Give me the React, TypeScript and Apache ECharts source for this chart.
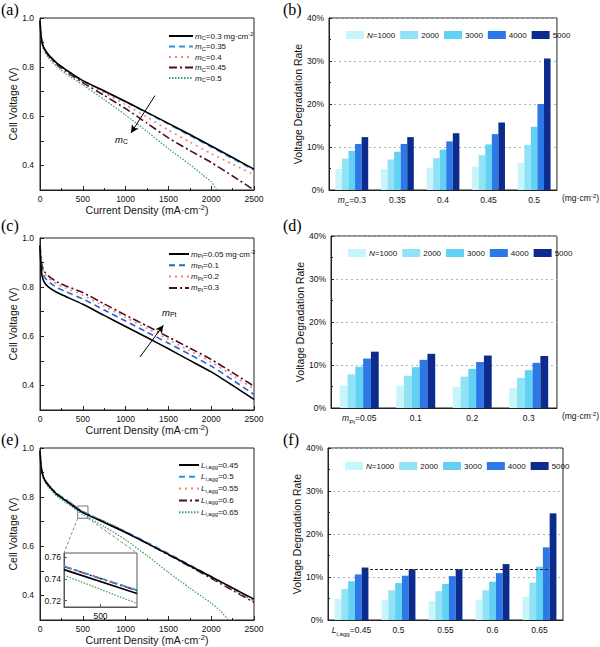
import React, { useEffect, useRef } from 'react';
import * as echarts from 'echarts';

// ---------- shared ----------
const currentDensity = [0, 10, 25, 50, 100, 200, 300, 500, 750, 1000, 1250, 1500, 1750, 2000, 2250, 2500];

// ---------- panel (a): carbon loading m_C ----------
const aMc03 = [0.99, 0.935, 0.9, 0.875, 0.85, 0.815, 0.79, 0.745, 0.703, 0.66, 0.616, 0.571, 0.526, 0.479, 0.432, 0.385];
const aMc035 = [0.99, 0.935, 0.9, 0.875, 0.85, 0.815, 0.79, 0.745, 0.702, 0.659, 0.614, 0.568, 0.522, 0.475, 0.428, 0.381];
const aMc04 = [0.99, 0.935, 0.899, 0.874, 0.848, 0.812, 0.787, 0.742, 0.696, 0.648, 0.597, 0.544, 0.495, 0.448, 0.405, 0.362];
const aMc045 = [0.99, 0.935, 0.898, 0.872, 0.846, 0.809, 0.783, 0.737, 0.685, 0.631, 0.572, 0.512, 0.461, 0.412, 0.357, 0.3];
const aMc05X = [0, 10, 25, 50, 100, 200, 300, 500, 750, 1000, 1250, 1500, 1750, 1900, 2000, 2063];
const aMc05 = [0.99, 0.93, 0.893, 0.866, 0.838, 0.8, 0.774, 0.728, 0.668, 0.605, 0.538, 0.468, 0.404, 0.362, 0.333, 0.3];
const aArrowFrom = [1343, 0.684];
const aArrowTo = [1063, 0.532];

// ---------- panel (c): platinum loading m_Pt ----------
const cMpt005 = [0.97, 0.895, 0.845, 0.82, 0.8, 0.778, 0.762, 0.73, 0.685, 0.64, 0.595, 0.549, 0.502, 0.455, 0.4, 0.343];
const cMpt01 = [0.97, 0.91, 0.865, 0.842, 0.822, 0.798, 0.782, 0.752, 0.707, 0.662, 0.617, 0.572, 0.526, 0.479, 0.422, 0.363];
const cMpt02 = [0.97, 0.92, 0.878, 0.856, 0.836, 0.812, 0.796, 0.767, 0.722, 0.677, 0.632, 0.587, 0.541, 0.495, 0.441, 0.386];
const cMpt03 = [0.97, 0.925, 0.886, 0.864, 0.845, 0.821, 0.805, 0.778, 0.732, 0.686, 0.642, 0.597, 0.552, 0.506, 0.452, 0.397];
const cArrowFrom = [1168, 0.516];
const cArrowTo = [1441, 0.645];

// ---------- panel (e): agglomerate L_i,agg ----------
const eL045 = [0.99, 0.935, 0.9, 0.873, 0.847, 0.81, 0.786, 0.737, 0.697, 0.656, 0.612, 0.567, 0.521, 0.476, 0.43, 0.385];
const eL05 = [0.99, 0.935, 0.9, 0.874, 0.849, 0.813, 0.79, 0.7406, 0.701, 0.66, 0.616, 0.571, 0.524, 0.477, 0.429, 0.381];
const eL055 = [0.99, 0.935, 0.9, 0.874, 0.849, 0.813, 0.79, 0.7409, 0.701, 0.659, 0.614, 0.568, 0.521, 0.474, 0.425, 0.377];
const eL06 = [0.99, 0.935, 0.9, 0.874, 0.849, 0.813, 0.79, 0.7403, 0.7, 0.658, 0.612, 0.565, 0.518, 0.47, 0.421, 0.372];
const eL065X = [0, 10, 25, 50, 100, 200, 300, 500, 750, 1000, 1250, 1500, 1750, 2000, 2100, 2200];
const eL065 = [0.99, 0.932, 0.895, 0.866, 0.84, 0.803, 0.778, 0.73, 0.68, 0.626, 0.562, 0.494, 0.43, 0.369, 0.34, 0.3];
// inset (zoom around 500 mA cm-2)
const insetX = [440, 560];
const insetL045 = [0.7486, 0.7264];
const insetL05 = [0.7517, 0.7295];
const insetL055 = [0.752, 0.7298];
const insetL06 = [0.7514, 0.7292];
const insetL065 = [0.7434, 0.7173];
const insetYTicks = [0.72, 0.74, 0.76];
const insetXTicks = [500];

// ---------- bar panels: voltage degradation rate (%) ----------
const cycleNames = ['1000', '2000', '3000', '4000', '5000'];
const barColors = ['#c8f5fb', '#90e3f6', '#62d2f4', '#2b78e6', '#0b2c8c'];

const bCats = ['0.3', '0.35', '0.4', '0.45', '0.5'];
const bN1000 = [4.9, 4.8, 5.1, 5.4, 6.3];
const bN2000 = [7.3, 7.1, 7.4, 8.1, 10.5];
const bN3000 = [9.1, 8.9, 9.4, 10.6, 14.7];
const bN4000 = [10.7, 10.7, 11.3, 13.0, 20.0];
const bN5000 = [12.3, 12.3, 13.2, 15.7, 30.6];

const dCats = ['0.05', '0.1', '0.2', '0.3'];
const dN1000 = [5.2, 5.1, 4.9, 4.7];
const dN2000 = [7.8, 7.5, 7.3, 7.0];
const dN3000 = [9.6, 9.5, 9.1, 8.8];
const dN4000 = [11.5, 11.2, 10.7, 10.5];
const dN5000 = [13.1, 12.6, 12.2, 12.1];

const fCats = ['0.45', '0.5', '0.55', '0.6', '0.65'];
const fN1000 = [4.9, 4.7, 4.4, 4.7, 5.4];
const fN2000 = [7.2, 6.9, 6.7, 6.9, 8.7];
const fN3000 = [9.0, 8.6, 8.4, 8.9, 12.4];
const fN4000 = [10.6, 10.3, 10.2, 10.9, 16.9];
const fN5000 = [12.2, 11.8, 11.8, 13.0, 24.8];
const fReference = 11.8;

// ---------- styling ----------
const FONT = '"Liberation Sans", Arial, Helvetica, sans-serif';
const SERIF = '"Liberation Serif", "Times New Roman", serif';
const TXT = '#111';

function rich(size: number, lh: number) {
  return {
    n: { fontSize: size, fontFamily: FONT, color: TXT, lineHeight: lh },
    i: { fontSize: size, fontFamily: FONT, color: TXT, lineHeight: lh, fontStyle: 'italic' },
    sub: { fontSize: size * 0.72, fontFamily: FONT, color: TXT, lineHeight: Math.round(lh * 0.5), verticalAlign: 'bottom' },
    sup: { fontSize: size * 0.72, fontFamily: FONT, color: TXT, lineHeight: Math.round(lh * 0.5), verticalAlign: 'top' },
  };
}

const S_SOLID = { color: '#000', width: 1.6, type: 'solid' };
const S_DASH = { color: '#2b92e6', width: 1.6, type: [6, 4] };
const S_DASH_C = { color: '#2563d4', width: 1.6, type: [6, 4] };
const S_DOT = { color: '#f2856d', width: 1.6, type: [2, 4] };
const S_DASHDOT = { color: '#4e0d26', width: 1.6, type: [8, 3, 2, 3] };
const S_GREEN = { color: '#3fa36a', width: 1.3, type: [1.5, 1.5] };

function zip(xs: number[], ys: number[]) {
  return ys.map((y, i) => [xs[i], y]);
}

function lineSeries(name: string, xs: number[], ys: number[], gi: number, ls: any, extra: any = {}) {
  return {
    name,
    type: 'line',
    xAxisIndex: gi,
    yAxisIndex: gi,
    data: zip(xs, ys),
    symbol: 'none',
    smooth: 0.2,
    lineStyle: ls,
    itemStyle: { color: ls.color },
    clip: true,
    ...extra,
  };
}

const LINE_GRIDS = [
  { left: 40, top: 18, width: 214, height: 172 },
  { left: 40, top: 238, width: 214, height: 172 },
  { left: 40, top: 448, width: 214, height: 172 },
];
const INSET_GRID = { left: 64, top: 553, width: 73, height: 54 };
const BAR_GRIDS = [
  { left: 329, top: 18, width: 238, height: 172 },
  { left: 331, top: 236, width: 234, height: 172 },
  { left: 328, top: 448, width: 235, height: 172 },
];

function buildOption() {
  const grids: any[] = [];
  const xAxes: any[] = [];
  const yAxes: any[] = [];
  const series: any[] = [];
  const legends: any[] = [];

  const frame = { show: true, borderColor: '#222', borderWidth: 1, backgroundColor: 'rgba(0,0,0,0)' };

  // line grids 0..2
  LINE_GRIDS.forEach((g, gi) => {
    grids.push({ ...g, ...frame });
    xAxes.push({
      gridIndex: gi,
      type: 'value',
      min: 0,
      max: 2500,
      interval: 500,
      axisLine: { show: true, onZero: false, lineStyle: { color: '#222', width: 1 } },
      axisTick: { show: true, inside: true, length: 4, lineStyle: { color: '#222' } },
      minorTick: { show: true, splitNumber: 2, length: 2, lineStyle: { color: '#222' } },
      splitLine: { show: false },
      axisLabel: { fontSize: 8.5, color: TXT, fontFamily: FONT, margin: 4, formatter: (v: number) => String(v) },
      name: '{n|Current Density (mA·cm}{sup|-2}{n|)}',
      nameLocation: 'middle',
      nameGap: 13,
      nameTextStyle: { rich: rich(10.5, 12) },
    });
    yAxes.push({
      gridIndex: gi,
      type: 'value',
      min: 0.3,
      max: 1.0,
      interval: 0.1,
      axisLine: { show: true, onZero: false, lineStyle: { color: '#222', width: 1 } },
      axisTick: { show: true, inside: true, length: 4, lineStyle: { color: '#222' } },
      splitLine: { show: false },
      axisLabel: {
        fontSize: 8.5,
        color: TXT,
        fontFamily: FONT,
        margin: 6,
        formatter: (v: number) => (Math.round(v * 10) % 2 === 0 ? v.toFixed(1) : ''),
      },
      name: 'Cell Voltage (V)',
      nameLocation: 'middle',
      nameGap: 22,
      nameTextStyle: { fontSize: 10.5, color: TXT, fontFamily: FONT },
    });
  });

  // inset grid 3
  grids.push({ ...INSET_GRID, show: true, borderColor: '#555', borderWidth: 1, backgroundColor: '#fff' });
  xAxes.push({
    gridIndex: 3,
    type: 'value',
    min: insetX[0],
    max: insetX[1],
    axisLine: { show: true, onZero: false, lineStyle: { color: '#555' } },
    axisTick: { show: true, inside: true, length: 3, customValues: insetXTicks, lineStyle: { color: '#555' } },
    splitLine: { show: false },
    axisLabel: { fontSize: 8.5, color: TXT, fontFamily: FONT, margin: 4, customValues: insetXTicks },
  });
  yAxes.push({
    gridIndex: 3,
    type: 'value',
    min: 0.714,
    max: 0.764,
    axisLine: { show: true, onZero: false, lineStyle: { color: '#555' } },
    axisTick: { show: true, inside: true, length: 3, customValues: insetYTicks, lineStyle: { color: '#555' } },
    splitLine: { show: false },
    axisLabel: {
      fontSize: 8.5,
      color: TXT,
      fontFamily: FONT,
      margin: 3,
      customValues: insetYTicks,
      formatter: (v: number) => v.toFixed(2),
    },
  });

  // bar grids 4..6
  const barPanels = [
    { cats: bCats, vals: [bN1000, bN2000, bN3000, bN4000, bN5000], first: '{i|m}{sub|C}{n|=0.3}', unit: true, gap: '28%', key: 'b' },
    { cats: dCats, vals: [dN1000, dN2000, dN3000, dN4000, dN5000], first: '{i|m}{sub|Pt}{n|=0.05}', unit: true, gap: '31%', key: 'd' },
    { cats: fCats, vals: [fN1000, fN2000, fN3000, fN4000, fN5000], first: '{i|L}{sub|i,agg}{n|=0.45}', unit: false, gap: '28%', key: 'f' },
  ];
  barPanels.forEach((p, k) => {
    const gi = 4 + k;
    const g = BAR_GRIDS[k];
    grids.push({ ...g, ...frame });
    xAxes.push({
      gridIndex: gi,
      type: 'category',
      data: p.cats,
      axisLine: { show: true, onZero: false, lineStyle: { color: '#222' } },
      axisTick: { show: false },
      splitLine: { show: false },
      axisLabel: {
        margin: 4,
        interval: 0,
        formatter: (v: string, idx: number) => (idx === 0 ? p.first : '{n|' + v + '}'),
        rich: rich(8.5, 12),
      },
      name: p.unit ? '{n|(mg·cm}{sup|-2}{n|)}' : '',
      nameLocation: 'end',
      nameGap: 5,
      nameTextStyle: { rich: rich(8.5, 12), verticalAlign: 'top', padding: [2, 0, 0, 0] },
    });
    yAxes.push({
      gridIndex: gi,
      type: 'value',
      min: 0,
      max: 40,
      interval: 10,
      axisLine: { show: true, onZero: false, lineStyle: { color: '#222' } },
      axisTick: { show: true, inside: true, length: 3, lineStyle: { color: '#222' } },
      minorTick: { show: true, splitNumber: 2, length: 2, lineStyle: { color: '#222' } },
      splitLine: { show: true, lineStyle: { color: '#a9b3c2', type: [2, 3], width: 1 } },
      axisLabel: { fontSize: 8.5, color: TXT, fontFamily: FONT, margin: 5, formatter: '{value}%' },
      name: 'Voltage Degradation Rate',
      nameLocation: 'middle',
      nameGap: 21,
      nameTextStyle: { fontSize: 10.5, color: TXT, fontFamily: FONT },
    });
    const names: string[] = [];
    cycleNames.forEach((c, j) => {
      const nm = p.key + c;
      names.push(nm);
      const s: any = {
        name: nm,
        type: 'bar',
        xAxisIndex: gi,
        yAxisIndex: gi,
        data: p.vals[j],
        barGap: '0%',
        barCategoryGap: p.gap,
        itemStyle: { color: barColors[j] },
      };
      if (p.key === 'f' && j === 4) {
        s.markLine = {
          silent: true,
          symbol: ['none', 'none'],
          label: { show: false },
          lineStyle: { color: '#222', type: [3, 2], width: 1 },
          data: [[{ coord: [fCats[0], fReference] }, { coord: [fCats[fCats.length - 1], fReference] }]],
        };
      }
      series.push(s);
    });
    const legendTop = [26, 244, 457][k];
    legends.push({
      left: g.left + 12,
      top: legendTop,
      orient: 'horizontal',
      icon: 'rect',
      itemWidth: 18,
      itemHeight: 8,
      itemGap: 5,
      selectedMode: false,
      data: names,
      formatter: (nm: string) => (nm.endsWith('1000') ? '{i|N}{n|=1000}' : '{n|' + nm.slice(1) + '}'),
      textStyle: { rich: rich(8, 10), padding: [0, 0, 0, -2] },
    });
  });

  // ---- line series (a) ----
  const aLabels: Record<string, string> = {
    a0: '{i|m}{sub|C}{n|=0.3 mg·cm}{sup|-2}',
    a1: '{i|m}{sub|C}{n|=0.35}',
    a2: '{i|m}{sub|C}{n|=0.4}',
    a3: '{i|m}{sub|C}{n|=0.45}',
    a4: '{i|m}{sub|C}{n|=0.5}',
  };
  series.push(
    lineSeries('a4', aMc05X, aMc05, 0, S_GREEN),
    lineSeries('a3', currentDensity, aMc045, 0, S_DASHDOT),
    lineSeries('a2', currentDensity, aMc04, 0, S_DOT),
    lineSeries('a1', currentDensity, aMc035, 0, S_DASH),
    lineSeries('a0', currentDensity, aMc03, 0, S_SOLID, {
      markLine: {
        silent: true,
        symbol: ['none', 'arrow'],
        symbolSize: [6, 8],
        label: { show: false },
        lineStyle: { color: '#000', type: 'solid', width: 1 },
        data: [[{ coord: aArrowFrom }, { coord: aArrowTo }]],
      },
    })
  );
  // ---- line series (c) ----
  const cLabels: Record<string, string> = {
    c0: '{i|m}{sub|Pt}{n|=0.05 mg·cm}{sup|-2}',
    c1: '{i|m}{sub|Pt}{n|=0.1}',
    c2: '{i|m}{sub|Pt}{n|=0.2}',
    c3: '{i|m}{sub|Pt}{n|=0.3}',
  };
  series.push(
    lineSeries('c3', currentDensity, cMpt03, 1, S_DASHDOT),
    lineSeries('c2', currentDensity, cMpt02, 1, S_DOT),
    lineSeries('c1', currentDensity, cMpt01, 1, S_DASH_C),
    lineSeries('c0', currentDensity, cMpt005, 1, S_SOLID, {
      markLine: {
        silent: true,
        symbol: ['none', 'arrow'],
        symbolSize: [6, 8],
        label: { show: false },
        lineStyle: { color: '#000', type: 'solid', width: 1 },
        data: [[{ coord: cArrowFrom }, { coord: cArrowTo }]],
      },
    })
  );
  // ---- line series (e) ----
  const eLabels: Record<string, string> = {
    e0: '{i|L}{sub|i,agg}{n|=0.45}',
    e1: '{i|L}{sub|i,agg}{n|=0.5}',
    e2: '{i|L}{sub|i,agg}{n|=0.55}',
    e3: '{i|L}{sub|i,agg}{n|=0.6}',
    e4: '{i|L}{sub|i,agg}{n|=0.65}',
  };
  series.push(
    lineSeries('e4', eL065X, eL065, 2, S_GREEN),
    lineSeries('e3', currentDensity, eL06, 2, S_DASHDOT),
    lineSeries('e2', currentDensity, eL055, 2, S_DOT),
    lineSeries('e1', currentDensity, eL05, 2, S_DASH),
    lineSeries('e0', currentDensity, eL045, 2, S_SOLID, {
      markArea: {
        silent: true,
        itemStyle: { color: 'rgba(0,0,0,0)', borderColor: '#777', borderWidth: 1 },
        data: [[{ coord: [insetX[0], 0.764] }, { coord: [insetX[1], 0.714] }]],
      },
      markLine: {
        silent: true,
        symbol: ['none', 'none'],
        label: { show: false },
        lineStyle: { color: '#888', type: [3, 2], width: 1 },
        data: [
          [{ coord: [insetX[0], 0.714] }, { x: INSET_GRID.left, y: INSET_GRID.top }],
          [{ coord: [insetX[1], 0.714] }, { x: INSET_GRID.left + INSET_GRID.width, y: INSET_GRID.top }],
        ],
      },
    })
  );
  // ---- inset series ----
  const insetSeries = [
    ['i4', insetL065, S_GREEN],
    ['i3', insetL06, S_DASHDOT],
    ['i2', insetL055, S_DOT],
    ['i1', insetL05, S_DASH],
    ['i0', insetL045, S_SOLID],
  ] as const;
  insetSeries.forEach(([nm, ys, ls]) => {
    series.push({ ...lineSeries(nm, insetX, ys as any, 3, ls), smooth: false, z: 5 });
  });

  const lineLegend = (left: number, top: number, names: string[], labels: Record<string, string>, gap: number, w: number) => ({
    left,
    top,
    orient: 'vertical',
    itemWidth: w,
    itemHeight: 8,
    itemGap: gap,
    selectedMode: false,
    itemStyle: { opacity: 0 },
    data: names,
    formatter: (nm: string) => labels[nm],
    textStyle: { rich: rich(8, 10), padding: [0, 0, 0, -3] },
  });
  legends.push(
    lineLegend(163, 26, ['a0', 'a1', 'a2', 'a3', 'a4'], aLabels, 1.5, 24),
    lineLegend(163, 244, ['c0', 'c1', 'c2', 'c3'], cLabels, 2.3, 20),
    lineLegend(173, 456, ['e0', 'e1', 'e2', 'e3', 'e4'], eLabels, 2.8, 20)
  );

  const panelLabel = (t: string, x: number, y: number) => ({
    type: 'text',
    left: x,
    top: y,
    style: { text: t, fontSize: 16, fontFamily: SERIF, fill: '#000' },
  });
  const graphic = [
    panelLabel('(a)', 1, 1),
    panelLabel('(b)', 283, 1),
    panelLabel('(c)', 1, 217),
    panelLabel('(d)', 283, 217),
    panelLabel('(e)', 1, 431),
    panelLabel('(f)', 283, 431),
    {
      type: 'text',
      left: 115,
      top: 134,
      style: { text: '{i|m}{sub|C}', rich: rich(9.5, 12) },
    },
    {
      type: 'text',
      left: 162,
      top: 307,
      style: { text: '{i|m}{sub|Pt}', rich: rich(9.5, 12) },
    },
  ];

  return {
    animation: false,
    backgroundColor: '#fff',
    textStyle: { fontFamily: FONT },
    grid: grids,
    xAxis: xAxes,
    yAxis: yAxes,
    legend: legends,
    series,
    graphic,
  };
}

export default function App() {
  const ref = useRef<HTMLDivElement>(null);
  useEffect(() => {
    const chart = echarts.init(ref.current as HTMLDivElement, null, { renderer: 'svg' });
    chart.setOption(buildOption() as any);
    return () => chart.dispose();
  }, []);
  return (
    <div
      ref={ref}
      style={{ position: 'absolute', left: 0, top: 0, width: 600, height: 647, background: '#fff' }}
    />
  );
}
